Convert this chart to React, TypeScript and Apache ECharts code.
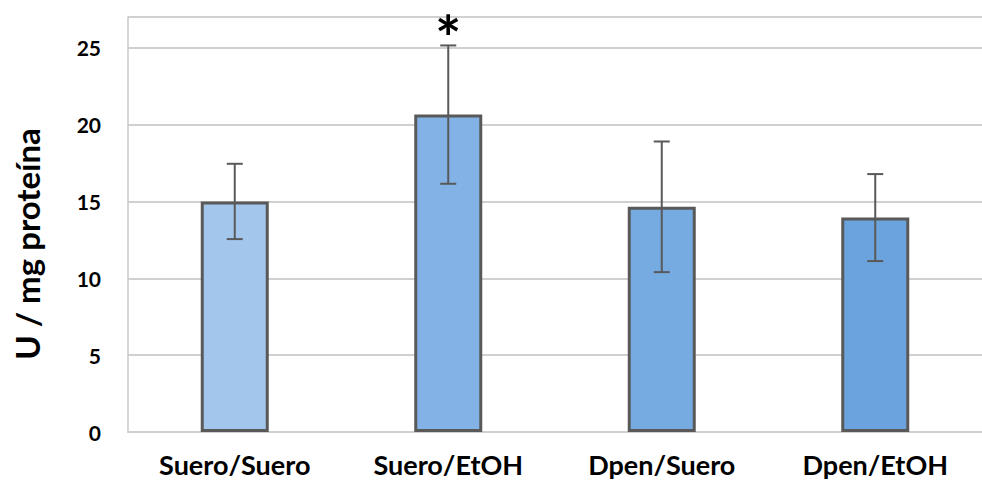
import React, { useEffect, useRef } from "react";
import * as echarts from "echarts";

const categories = ["Suero/Suero", "Suero/EtOH", "Dpen/Suero", "Dpen/EtOH"];
const means = [15.0, 20.65, 14.65, 13.95];
const errors = [2.45, 4.5, 4.25, 2.83];
const significance = ["", "*", "", ""];
const barColors = ["#a3c6ec", "#82b2e6", "#76abe2", "#6aa3dd"];
const yTicks = [0, 5, 10, 15, 20, 25];

const FONT = "Lato, 'Open Sans', sans-serif";

export default function App() {
  const ref = useRef<HTMLDivElement>(null);
  useEffect(() => {
    if (!ref.current) return;
    const chart = echarts.init(ref.current, undefined, { renderer: "svg" });
    const errData = means.map((m, i) => [i, m - errors[i], m + errors[i], i]);
    chart.setOption({
      animation: false,
      backgroundColor: "#ffffff",
      grid: { left: 128, right: -13, top: 17, bottom: 55 },
      xAxis: {
        type: "category",
        data: categories,
        axisLine: { lineStyle: { color: "#d0d0d0", width: 2 } },
        axisTick: { show: false },
        axisLabel: {
          color: "#000",
          fontFamily: FONT,
          fontWeight: "bold",
          fontSize: 27,
          margin: 19,
        },
      },
      yAxis: {
        type: "value",
        min: 0,
        max: 27,
        interval: 5,
        axisLine: { show: true, lineStyle: { color: "#c8c8c8", width: 1.5 } },
        axisTick: { show: false },
        splitLine: { lineStyle: { color: "#c0c0c0", width: 1.5 } },
        axisLabel: {
          color: "#000",
          fontFamily: FONT,
          fontWeight: "bold",
          fontSize: 21,
          margin: 27,
          formatter: (v: number) => (yTicks.includes(v) ? String(v) : ""),
        },
      },
      graphic: [
        {
          type: "text",
          x: 27,
          y: 244,
          rotation: Math.PI / 2,
          style: {
            text: "U / mg proteína",
            fill: "#000",
            font: `bold 33px ${FONT}`,
            align: "center",
            verticalAlign: "middle",
          },
        },
      ],
      series: [
        {
          type: "bar",
          barWidth: 68,
          data: means.map((m, i) => ({
            value: m,
            itemStyle: { color: barColors[i] },
          })),
          itemStyle: { borderColor: "#595959", borderWidth: 3 },
        },
        {
          type: "custom",
          data: errData,
          z: 5,
          renderItem: (params: any, api: any) => {
            const i = api.value(3);
            const x = api.coord([api.value(0), 0])[0];
            const low = api.coord([api.value(0), api.value(1)])[1];
            const high = api.coord([api.value(0), api.value(2)])[1];
            const half = 8;
            const style = { stroke: "#595959", lineWidth: 2 };
            const children: any[] = [
              { type: "line", shape: { x1: x, y1: high, x2: x, y2: low }, style },
              { type: "line", shape: { x1: x - half, y1: high, x2: x + half, y2: high }, style },
              { type: "line", shape: { x1: x - half, y1: low, x2: x + half, y2: low }, style },
            ];
            if (significance[i]) {
              children.push({
                type: "text",
                x: x,
                y: high + 23,
                style: {
                  text: significance[i],
                  fill: "#000",
                  font: `bold 62px ${FONT}`,
                  align: "center",
                  verticalAlign: "bottom",
                },
              });
            }
            return { type: "group", children };
          },
        },
      ],
    });
    return () => chart.dispose();
  }, []);
  return (
    <div
      ref={ref}
      style={{ position: "absolute", left: 0, top: 0, width: 982, height: 487 }}
    />
  );
}
